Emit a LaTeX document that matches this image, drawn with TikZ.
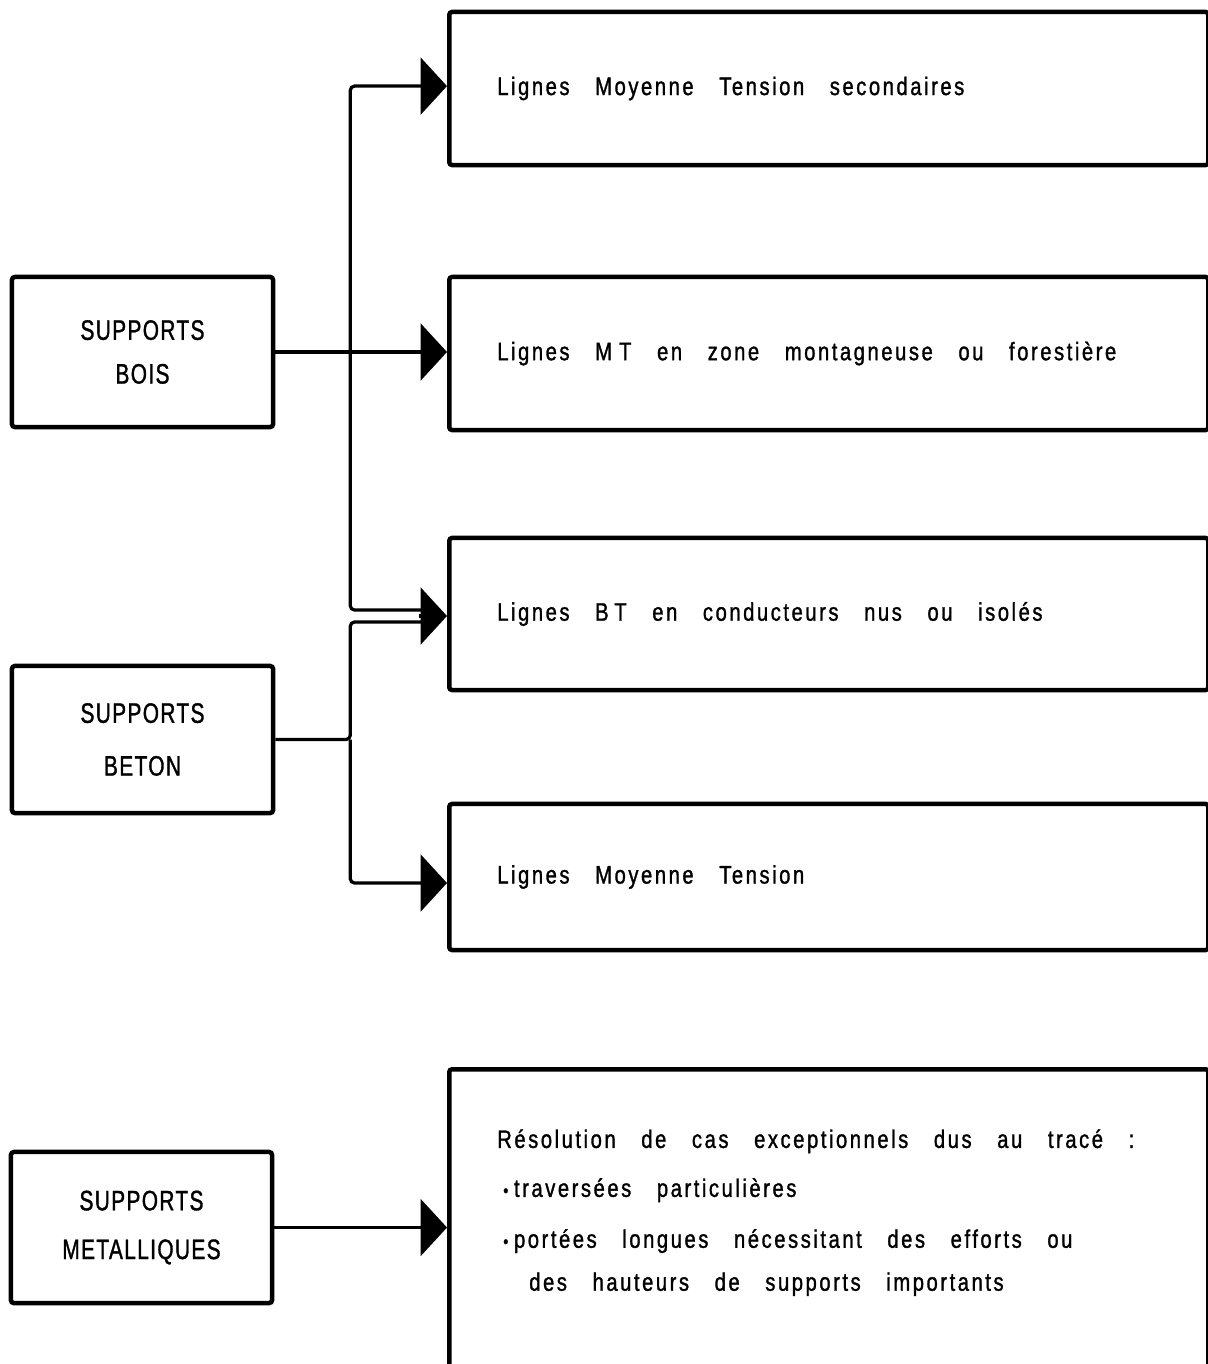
\documentclass[tikz,border=0pt]{standalone}
\usepackage{fontspec}
\setmainfont{Liberation Sans}[FakeStretch=0.8,LetterSpace=10,FakeBold=1.2]
\newfontfamily\capsfont{Liberation Sans}[FakeStretch=0.74,LetterSpace=5,FakeBold=1.2]
\newcommand\wsp{\hspace{0.64cm}}
\newcommand\dotb{{\fontsize{13}{13}\selectfont\textbullet}\kern4pt}
\usetikzlibrary{arrows.meta,positioning}
\tikzset{
  srcbox/.style={rectangle, rounded corners=2pt, draw, line width=3.2pt, align=center,
                 minimum width=6.525cm, font=\capsfont\fontsize{20}{24}\selectfont},
  usebox/.style={rectangle, rounded corners=2pt, draw, line width=3.2pt, align=left,
                 anchor=west, minimum width=18.975cm, text width=16.575cm,
                 inner xsep=1.2cm, font=\fontsize{18}{22}\selectfont},
  link/.style={line width=2.3pt, rounded corners=3pt},
  arrow/.style={-{Triangle[length=0.66cm,width=1.42cm]}, line width=2.3pt, rounded corners=3pt}
}
\begin{document}
\begin{tikzpicture}[x=0.025cm, y=-0.025cm]
  \useasboundingbox (0,0) rectangle (1208,1364);
  \node[srcbox, minimum height=3.75cm] (bois) at (142.5,352) {SUPPORTS\\[0.25cm]BOIS};
  \node[srcbox, minimum height=3.675cm] (beton) at (142.5,739.5) {SUPPORTS\\[0.475cm]BETON};
  \node[srcbox, minimum height=3.775cm] (metal) at (141.5,1227.5) {SUPPORTS\\[0.375cm]METALLIQUES};
  \node[usebox, minimum height=3.825cm] (mts) at (447,88.5)
    {Lignes\wsp Moyenne\wsp Tension\wsp secondaires};
  \node[usebox, minimum height=3.825cm] (mtz) at (447,353.5)
    {Lignes\wsp M\kern5pt T\wsp en\wsp zone\wsp montagneuse\wsp ou\wsp forestière};
  \node[usebox, minimum height=3.8cm] (bt) at (447,614)
    {Lignes\wsp B\kern4pt T\wsp en\wsp conducteurs\wsp nus\wsp ou\wsp isolés};
  \node[usebox, minimum height=3.65cm] (mt) at (447,877)
    {Lignes\wsp Moyenne\wsp Tension};
  \node[usebox, anchor=north west, inner ysep=1.5cm] (cas) at (447,1067)
    {Résolution\wsp de\wsp cas\wsp exceptionnels\wsp dus\wsp au\wsp tracé\wsp :\\[0.45cm]
     \hspace*{0.15cm}\dotb traversées\wsp particulières\\[0.5cm]
     \hspace*{0.15cm}\dotb portées\wsp longues\wsp nécessitant\wsp des\wsp efforts\wsp ou\\[0.3cm]
     \hspace*{0.8cm}des\wsp hauteurs\wsp de\wsp supports\wsp importants\\[1cm]\mbox{}};
  \coordinate (j1) at ([xshift=1.875cm]bois.east);
  \coordinate (j2) at ([xshift=1.875cm]beton.east);
  \draw[arrow] (bois.east) -- (bois.east -| mtz.west);
  \draw[arrow] (j1) |- ([yshift=0.06cm]mts.west);
  \draw[link] (j1) |- ([xshift=-0.5cm, yshift=0.1cm]bt.west);
  \draw[link] (beton.east) -- (j2) |- ([xshift=-0.5cm, yshift=-0.2cm]bt.west);
  \draw[arrow] (j2) |- ([yshift=-0.15cm]mt.west);
  \draw[arrow] ([xshift=-0.7cm, yshift=-0.05cm]bt.west) -- ([yshift=-0.05cm]bt.west);
  \draw[arrow] (metal.east) -- (metal.east -| cas.west);
\end{tikzpicture}
\end{document}
